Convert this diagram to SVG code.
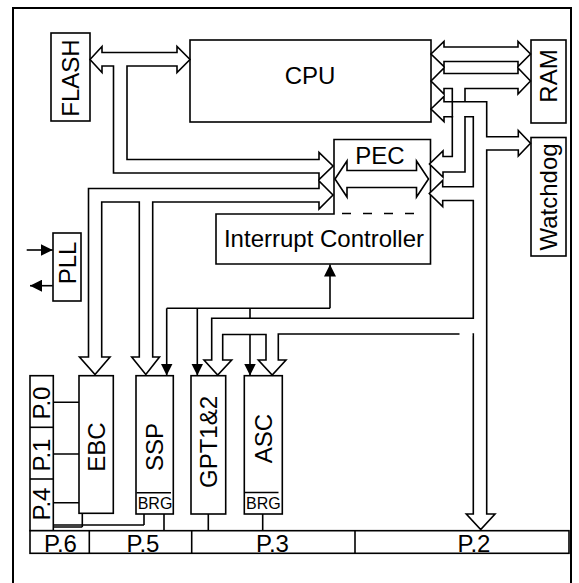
<svg xmlns="http://www.w3.org/2000/svg" width="579" height="583" viewBox="0 0 579 583">
<style>
.box{fill:#fff;stroke:#000;stroke-width:1.6}
.ba{fill:#fff;stroke:#000;stroke-width:1.6;stroke-linejoin:miter}
.ln{fill:none;stroke:#000;stroke-width:1.6}
.t{font-family:"Liberation Sans",Arial,sans-serif;font-size:24px;fill:#000;text-anchor:middle}
.s{font-family:"Liberation Sans",Arial,sans-serif;font-size:16px;fill:#000;text-anchor:middle}
</style>
<defs>
<marker id="tri" markerUnits="userSpaceOnUse" markerWidth="12" markerHeight="12" refX="12" refY="6" orient="auto" viewBox="0 0 12 12"><path d="M0,0 L12,6 L0,12 z" fill="#000"/></marker>
</defs>
<rect x="13" y="8" width="558" height="590" fill="#fff" stroke="#000" stroke-width="2"/>

<g id="FLASH"><rect class="box" x="51" y="33" width="39" height="88"/><text class="t" transform="translate(70.5,78) rotate(-90)" y="8.6">FLASH</text></g>
<g id="CPU"><rect class="box" x="190" y="40" width="241" height="82"/><text class="t" x="310" y="84">CPU</text></g>
<g id="RAM"><rect class="box" x="531" y="40" width="35" height="83"/><text class="t" transform="translate(548.5,76) rotate(-90)" y="8.6">RAM</text></g>
<g id="Watchdog"><rect class="box" x="531" y="137.5" width="35" height="118.5"/><text class="t" transform="translate(548.5,197) rotate(-90)" y="8.6">Watchdog</text></g>
<g id="PEC_IC"><path class="box" d="M334,139.5 L430.5,139.5 L430.5,264 L216,264 L216,214 L334,214 Z"/>
<text class="t" x="380" y="164">PEC</text>
<line x1="342" y1="213.5" x2="416" y2="213.5" stroke="#000" stroke-width="1.6" stroke-dasharray="9,12"/>
<text class="t" x="324" y="247">Interrupt Controller</text></g>
<g id="PLL"><rect class="box" x="53" y="233" width="28" height="68"/><text class="t" transform="translate(67,263) rotate(-90)" y="8.6">PLL</text></g>
<g id="EBC"><rect class="box" x="79" y="375.7" width="34.3" height="137.6"/><text class="t" transform="translate(96.2,447) rotate(-90)" y="8.6">EBC</text></g>
<g id="SSP"><rect class="box" x="136" y="375.7" width="37.3" height="138.3"/><line class="ln" x1="136.5" y1="492.7" x2="171" y2="492.7"/><text class="t" transform="translate(154.7,447) rotate(-90)" y="8.6">SSP</text><text class="s" x="155" y="509">BRG</text></g>
<g id="GPT"><rect class="box" x="191" y="375.7" width="34.7" height="138.3"/><text class="t" transform="translate(208.3,442) rotate(-90)" y="8.6">GPT1&amp;2</text></g>
<g id="ASC"><rect class="box" x="244.3" y="375.7" width="38" height="138.3"/><line class="ln" x1="244.5" y1="492.5" x2="278.5" y2="492.5"/><text class="t" transform="translate(263.3,438.5) rotate(-90)" y="8.6">ASC</text><text class="s" x="263.3" y="508.5">BRG</text></g>
<g id="P014"><rect class="box" x="30" y="375.7" width="23.3" height="155"/><line class="ln" x1="30" y1="427.3" x2="53.3" y2="427.3"/><line class="ln" x1="30" y1="479" x2="53.3" y2="479"/>
<text class="t" transform="translate(41.7,403) rotate(-90)" y="8.6">P.0</text><text class="t" transform="translate(41.7,455) rotate(-90)" y="8.6">P.1</text><text class="t" transform="translate(41.7,504) rotate(-90)" y="8.6">P.4</text></g>
<g id="Ports"><rect class="box" x="30" y="530.7" width="539" height="22.6"/><line class="ln" x1="89.3" y1="530.7" x2="89.3" y2="553.3"/><line class="ln" x1="191.7" y1="530.7" x2="191.7" y2="553.3"/><line class="ln" x1="355" y1="530.7" x2="355" y2="553.3"/>
<text class="t" x="60.5" y="551.5">P.6</text><text class="t" x="143" y="551.5">P.5</text><text class="t" x="272.5" y="551.5">P.3</text><text class="t" x="474" y="551.5">P.2</text></g>

<g id="connectors">
<path class="ba" d="M90,59.5 L102,46.5 L102,52.5 L177,52.5 L177,46.5 L190,59.5 L177,72.5 L177,66 L127,66 L127,159.5 L319,159.5 L319,152.5 L333,166 L319,179.5 L319,173 L113.5,173 L113.5,66 L102,66 L102,72.5 Z"/>
<path class="ba" d="M333,195 L319,181 L319,188.5 L88.5,188.5 L88.5,357 L79.5,357 L95,374.5 L110,357 L101.7,357 L101.7,202 L139.3,202 L139.3,357 L131.7,357 L145.8,374.5 L159.5,357 L152.7,357 L152.7,202 L319,202 L319,209 Z"/>
<path class="ba" d="M335,179 L347,161 L347,170.5 L416.5,170.5 L416.5,161 L428.5,179 L416.5,197 L416.5,187.5 L347,187.5 L347,197 Z"/>
<path class="ba" d="M431,54 L444,41.5 L444,47 L518,47 L518,41.5 L530.5,54 L518,66.5 L518,61.5 L444,61.5 L444,66.5 Z"/>
<path class="ba" d="M431,81 L444,68 L444,73.5 L518,73.5 L518,68 L530.5,81 L518,94 L518,88.5 L465,88.5 L465,172 L443,172 L443,177 L429.5,164 L443,151 L443,156.5 L452.3,156.5 L452.3,88.5 L444,88.5 L444,94 Z"/>
<path class="ba" d="M431,109 L444,96.5 L444,101.7 L486.7,101.7 L486.7,136.7 L518.3,136.7 L518.3,130.5 L530.5,143.3 L518.3,156 L518.3,150 L486.7,150 L486.7,514 L495,514 L480.7,529.5 L466.3,514 L473.3,514 L473.3,334 L278.3,334 L278.3,360 L286,360 L272.2,375 L258.3,360 L266,360 L266,334.5 L222.7,334.5 L222.7,360 L231.7,360 L217.7,375 L204,360 L211.7,360 L211.7,318.3 L473.3,318.3 L473.3,200.5 L442.7,200.5 L442.7,206.5 L429.3,193.5 L442.7,180.5 L442.7,186.7 L473.3,186.7 L473.3,116.7 L444,116.7 L444,121.5 Z"/>
<rect x="453.2" y="115" width="10.9" height="3.4" fill="#fff"/>
<rect x="459.5" y="332.6" width="13" height="2.8" fill="#fff"/>
<path class="ln" d="M452.3,101.7 L452.3,117.5"/>
<path class="ln" d="M166.7,308.3 L330,308.3"/>
<path class="ln" d="M330,308.3 L330,264.5" marker-end="url(#tri)"/>
<path class="ln" d="M166.7,308.3 L166.7,375.5" marker-end="url(#tri)"/>
<path class="ln" d="M197.3,308.3 L197.3,375.5" marker-end="url(#tri)"/>
<path class="ln" d="M250,308.3 L250,318.3"/>
<path class="ln" d="M250,334.5 L250,375.5" marker-end="url(#tri)"/>
<path class="ln" d="M26.7,250 L52.7,250" marker-end="url(#tri)"/>
<path class="ln" d="M52.7,285.7 L30,285.7" marker-end="url(#tri)"/>
<path class="ln" d="M53.3,402.3 L79,402.3 M53.3,454 L79,454 M53.3,502.7 L79,502.7"/>
<path class="ln" d="M53.3,525 L144,525 M144,514 L144,525 M82.3,513.3 L82.3,527 M53.3,527 L82.3,527"/>
<path class="ln" d="M164,514 L164,530.7 M208.3,514 L208.3,530.7 M262.7,514 L262.7,530.7"/>
</g>
</svg>
